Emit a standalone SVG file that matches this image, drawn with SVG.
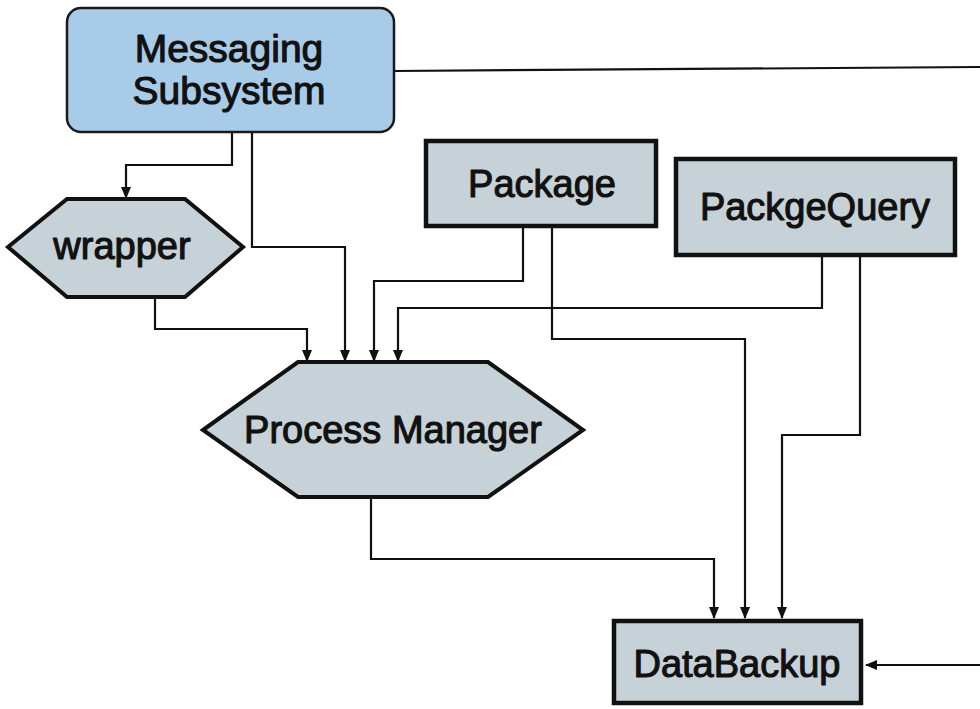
<svg xmlns="http://www.w3.org/2000/svg" width="980" height="709" viewBox="0 0 980 709">
  <style>
    .lbl { font-family: "Liberation Sans", Arial, Helvetica, sans-serif; font-size: 38px; fill: #111; stroke: #111; stroke-width: 1.1; stroke-linejoin: round; text-anchor: middle; }
    .box { fill: #c6d2d7; stroke: #111; stroke-width: 4.5; }
    .hex { fill: #c6d2d7; stroke: #111; stroke-width: 4; stroke-linejoin: miter; }
    .sub { fill: #a8cce7; stroke: #1a1a1a; stroke-width: 2.5; }
    .wire { fill: none; stroke: #111; stroke-width: 2.2; }
  </style>
  <defs>
    <marker id="arr" markerWidth="12" markerHeight="12" refX="11" refY="6" orient="auto" markerUnits="userSpaceOnUse">
      <path d="M0,1 L12,6 L0,11 Z" fill="#111"/>
    </marker>
  </defs>

  <rect width="980" height="709" fill="#ffffff"/>

  <!-- connectors -->
  <g id="connectors" class="wire">
    <path d="M394,71 L980,67"/>
    <path d="M232,131 V165 H126 V198" marker-end="url(#arr)"/>
    <path d="M252,131 V247 H345 V361" marker-end="url(#arr)"/>
    <path d="M155,297 V329 H307 V361" marker-end="url(#arr)"/>
    <path d="M523,228 V281 H374 V361" marker-end="url(#arr)"/>
    <path d="M822,257 V308 H398 V361" marker-end="url(#arr)"/>
    <path d="M552,228 V339 H745 V618" marker-end="url(#arr)"/>
    <path d="M860,257 V435 H782 V618" marker-end="url(#arr)"/>
    <path d="M371,497 V559 H714 V618" marker-end="url(#arr)"/>
    <path d="M980,665 H866" marker-end="url(#arr)"/>
  </g>

  <!-- nodes -->
  <g id="messaging-subsystem">
    <rect class="sub" x="67" y="8" width="327" height="124" rx="14" ry="14"/>
    <text class="lbl" x="229" y="62" style="font-size:39px">Messaging</text>
    <text class="lbl" x="229" y="104" style="font-size:39px">Subsystem</text>
  </g>

  <g id="wrapper">
    <polygon class="hex" points="8,247 67,199 185,199 243,247 185,297 67,297"/>
    <text class="lbl" x="122" y="259">wrapper</text>
  </g>

  <g id="package">
    <rect class="box" x="426" y="141" width="230" height="85"/>
    <text class="lbl" x="542" y="197">Package</text>
  </g>

  <g id="packge-query">
    <rect class="box" x="676" y="159" width="279" height="96"/>
    <text class="lbl" x="815" y="220">PackgeQuery</text>
  </g>

  <g id="process-manager">
    <polygon class="hex" points="203,430 298,362 488,362 583,430 488,497 298,497"/>
    <text class="lbl" x="393" y="443">Process Manager</text>
  </g>

  <g id="data-backup">
    <rect class="box" x="614" y="621" width="247" height="82"/>
    <text class="lbl" x="737" y="677">DataBackup</text>
  </g>
</svg>
